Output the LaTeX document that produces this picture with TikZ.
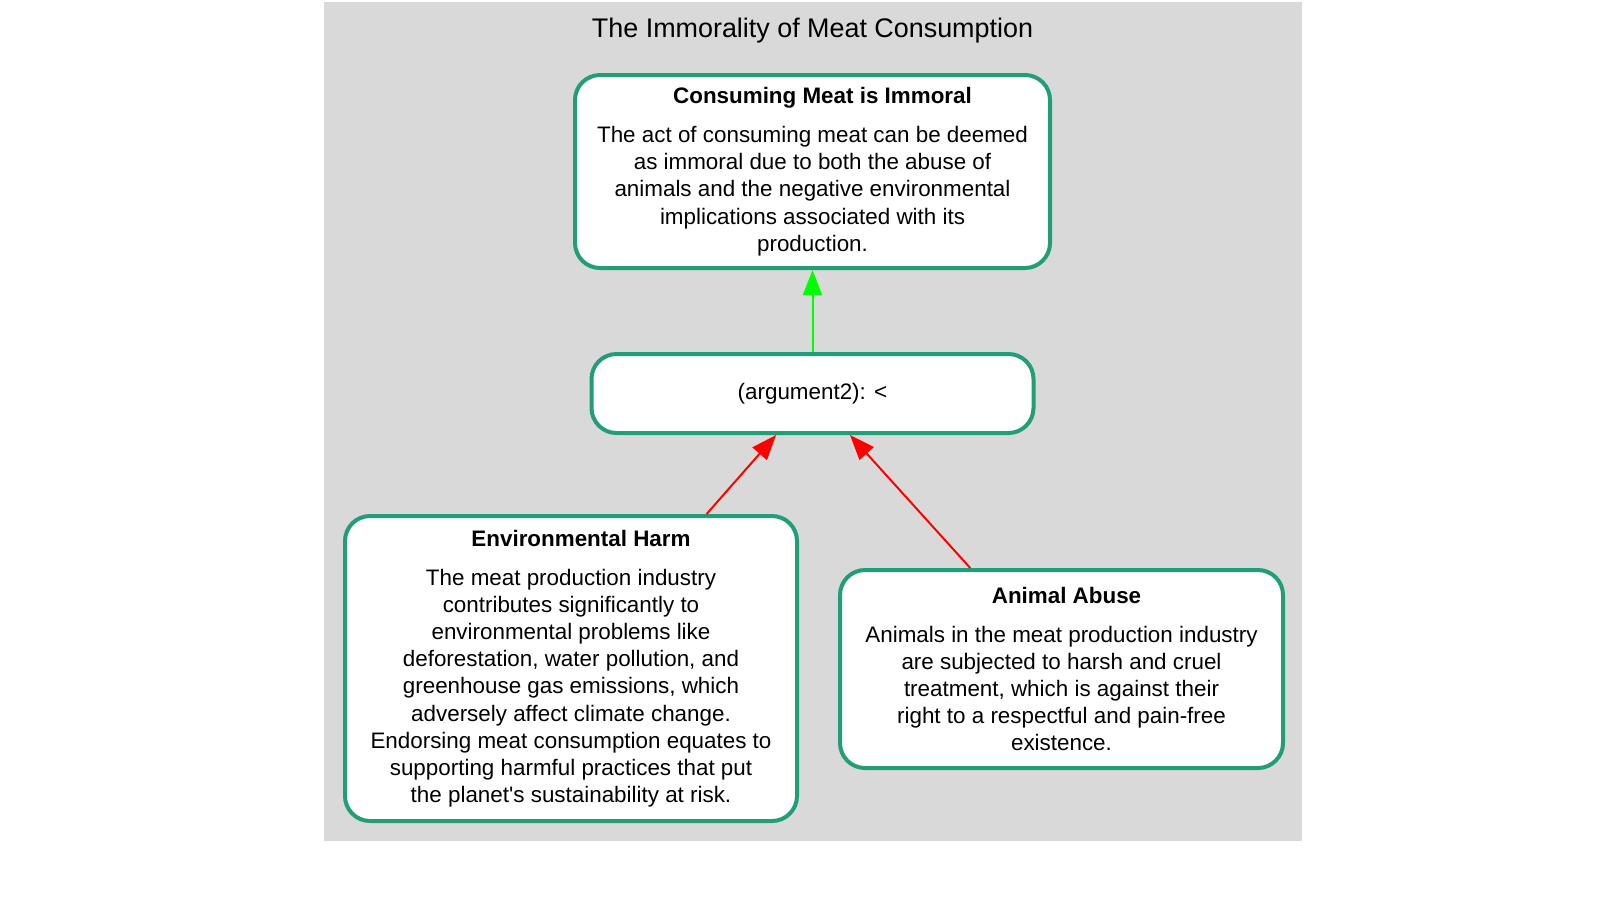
\documentclass[tikz,border=0pt]{standalone}
\usepackage{fontspec}
\setmainfont{Liberation Sans}[Ligatures=TeXOff]
\usepackage{tikz}
\usetikzlibrary{arrows.meta}
\tikzset{>={Triangle[length=12.5pt, width=9.5pt]}}
\definecolor{mygray}{RGB}{217, 217, 217}
\definecolor{mygreen}{RGB}{33, 158, 120}
\tikzset{
  argbox/.style={draw=mygreen, line width=2pt, rounded corners=12.5pt, fill=white, align=center, inner sep=0pt, font=\fontsize{11.2}{13.6}\selectfont},
  attack/.style={->, red, line width=1pt},
  support/.style={->, green, line width=1pt}
}

\begin{document}
\begin{tikzpicture}[x=0.5pt, y=-0.5pt]
\useasboundingbox (0,0) rectangle (1616,912);
\fill[mygray] (324,2) rectangle (1302,841);

\node[anchor=base, font=\fontsize{13.45}{16}\selectfont] (title) at (812.5,37) {The Immorality of Meat Consumption};

\node[argbox, minimum width=237.5pt, minimum height=96.5pt] (claim) at (812.5,171.5) {\hspace*{10pt}\textbf{Consuming Meat is Immoral}\\[5.9pt]
The act of consuming meat can be deemed\\
as immoral due to both the abuse of\\
animals and the negative environmental\\
implications associated with its\\
production.};

\node[argbox, minimum width=221pt, minimum height=39.5pt] (arg) at (812.5,393.5) {(argument2): <};

\node[argbox, minimum width=226pt, minimum height=152.5pt] (env) at (571,668.5) {\hspace*{10pt}\textbf{Environmental Harm}\\[5.9pt]
The meat production industry\\
contributes significantly to\\
environmental problems like\\
deforestation, water pollution, and\\
greenhouse gas emissions, which\\
adversely affect climate change.\\
Endorsing meat consumption equates to\\
supporting harmful practices that put\\
the planet's sustainability at risk.};

\node[argbox, minimum width=221.5pt, minimum height=99pt] (abuse) at (1061.5,669) {\hspace*{5pt}\textbf{Animal Abuse}\\[5.9pt]
Animals in the meat production industry\\
are subjected to harsh and cruel\\
treatment, which is against their\\
right to a respectful and pain-free\\
existence.};

\draw[support] (arg) -- (claim);
\draw[attack] (env) -- (arg);
\draw[attack] (abuse) -- (arg);
\end{tikzpicture}
\end{document}
